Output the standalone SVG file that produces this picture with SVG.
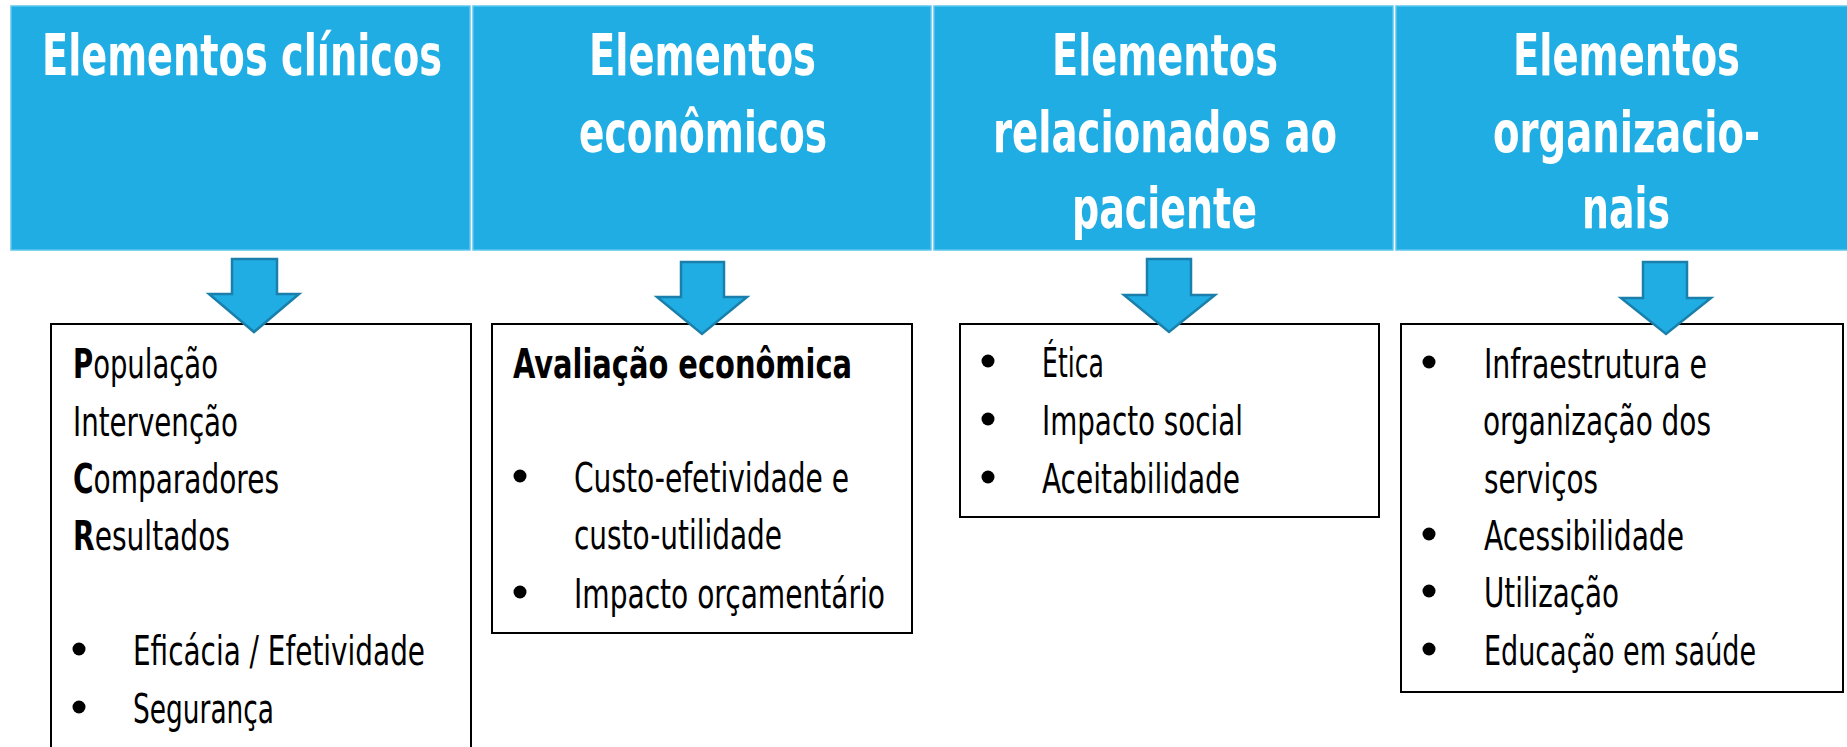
<svg xmlns="http://www.w3.org/2000/svg" width="1847" height="747" viewBox="0 0 1847 747">
<style>
.hdr{fill:#1FADE4;stroke:#5CC6EE;stroke-width:1.5}
.ht{fill:#fff;font-family:"Liberation Sans Narrow","DejaVu Sans Condensed","Liberation Sans",sans-serif;font-weight:bold;font-size:57px;text-anchor:middle}
.box{fill:#fff;stroke:#000;stroke-width:2}
.bt{fill:#000;font-family:"Liberation Sans Narrow","DejaVu Sans Condensed","Liberation Sans",sans-serif;font-size:40px}
.b{font-weight:bold}
.arrow{fill:#1FADE4;stroke:#1A7FAA;stroke-width:2.5;stroke-linejoin:miter}
</style>
<rect width="1847" height="747" fill="#fff"/>
<g id="header-clinicos">
<rect class="hdr" x="11" y="6" width="459" height="244"/>
<text class="ht" x="242" y="75" textLength="400" lengthAdjust="spacingAndGlyphs">Elementos clínicos</text>
</g>
<g id="header-economicos">
<rect class="hdr" x="473" y="6" width="458" height="244"/>
<text class="ht" x="702.5" y="75" textLength="227" lengthAdjust="spacingAndGlyphs">Elementos</text>
<text class="ht" x="703" y="152" textLength="248" lengthAdjust="spacingAndGlyphs">econômicos</text>
</g>
<g id="header-paciente">
<rect class="hdr" x="934" y="6" width="459" height="244"/>
<text class="ht" x="1165" y="75" textLength="226" lengthAdjust="spacingAndGlyphs">Elementos</text>
<text class="ht" x="1165" y="152" textLength="344" lengthAdjust="spacingAndGlyphs">relacionados ao</text>
<text class="ht" x="1164.5" y="228" textLength="185" lengthAdjust="spacingAndGlyphs">paciente</text>
</g>
<g id="header-organizacionais">
<rect class="hdr" x="1396" y="6" width="462" height="244"/>
<text class="ht" x="1626.5" y="75" textLength="227" lengthAdjust="spacingAndGlyphs">Elementos</text>
<text class="ht" x="1626.5" y="152" textLength="267" lengthAdjust="spacingAndGlyphs">organizacio-</text>
<text class="ht" x="1626" y="228" textLength="88" lengthAdjust="spacingAndGlyphs">nais</text>
</g>
<g id="box-clinicos">
<rect class="box" x="51" y="324" width="420" height="440"/>
<text class="bt" x="73" y="378" textLength="145" lengthAdjust="spacingAndGlyphs"><tspan class="b">P</tspan>opulação</text>
<text class="bt" x="73" y="436" textLength="165" lengthAdjust="spacingAndGlyphs">Intervenção</text>
<text class="bt" x="73" y="493" textLength="206" lengthAdjust="spacingAndGlyphs"><tspan class="b">C</tspan>omparadores</text>
<text class="bt" x="73" y="550" textLength="157" lengthAdjust="spacingAndGlyphs"><tspan class="b">R</tspan>esultados</text>
<circle cx="79" cy="649" r="6.5"/>
<text class="bt" x="133" y="665" textLength="292" lengthAdjust="spacingAndGlyphs">Eficácia / Efetividade</text>
<circle cx="79" cy="707" r="6.5"/>
<text class="bt" x="133" y="723" textLength="141" lengthAdjust="spacingAndGlyphs">Segurança</text>
</g>
<g id="box-economicos">
<rect class="box" x="492" y="324" width="420" height="309"/>
<text class="bt b" x="513" y="378" textLength="339" lengthAdjust="spacingAndGlyphs">Avaliação econômica</text>
<circle cx="520" cy="476" r="6.5"/>
<text class="bt" x="574" y="492" textLength="275" lengthAdjust="spacingAndGlyphs">Custo-efetividade e</text>
<text class="bt" x="574" y="549" textLength="208" lengthAdjust="spacingAndGlyphs">custo-utilidade</text>
<circle cx="520" cy="592" r="6.5"/>
<text class="bt" x="574" y="608" textLength="311" lengthAdjust="spacingAndGlyphs">Impacto orçamentário</text>
</g>
<g id="box-paciente">
<rect class="box" x="960" y="324" width="419" height="193"/>
<circle cx="988" cy="361" r="6.5"/>
<text class="bt" x="1042" y="377" textLength="62" lengthAdjust="spacingAndGlyphs">Ética</text>
<circle cx="988" cy="419" r="6.5"/>
<text class="bt" x="1042" y="435" textLength="201" lengthAdjust="spacingAndGlyphs">Impacto social</text>
<circle cx="988" cy="477" r="6.5"/>
<text class="bt" x="1042" y="493" textLength="198" lengthAdjust="spacingAndGlyphs">Aceitabilidade</text>
</g>
<g id="box-organizacionais">
<rect class="box" x="1401" y="324" width="442" height="368"/>
<circle cx="1429" cy="362" r="6.5"/>
<text class="bt" x="1484" y="378" textLength="223" lengthAdjust="spacingAndGlyphs">Infraestrutura e</text>
<text class="bt" x="1483" y="435" textLength="228" lengthAdjust="spacingAndGlyphs">organização dos</text>
<text class="bt" x="1484" y="493" textLength="114" lengthAdjust="spacingAndGlyphs">serviços</text>
<circle cx="1429" cy="534" r="6.5"/>
<text class="bt" x="1484" y="550" textLength="200" lengthAdjust="spacingAndGlyphs">Acessibilidade</text>
<circle cx="1429" cy="591" r="6.5"/>
<text class="bt" x="1484" y="607" textLength="135" lengthAdjust="spacingAndGlyphs">Utilização</text>
<circle cx="1429" cy="649" r="6.5"/>
<text class="bt" x="1484" y="665" textLength="272" lengthAdjust="spacingAndGlyphs">Educação em saúde</text>
</g>
<g id="connectors">
<polygon class="arrow" points="232,259 277,259 277,294 299,294 254,332 209,294 232,294"/>
<polygon class="arrow" points="681,262 724,262 724,297 747,297 702,334 657,297 681,297"/>
<polygon class="arrow" points="1147,259 1191,259 1191,295 1215,295 1169,332 1124,295 1147,295"/>
<polygon class="arrow" points="1643,262 1687,262 1687,298 1711,298 1666,334 1621,298 1643,298"/>
</g>
</svg>
